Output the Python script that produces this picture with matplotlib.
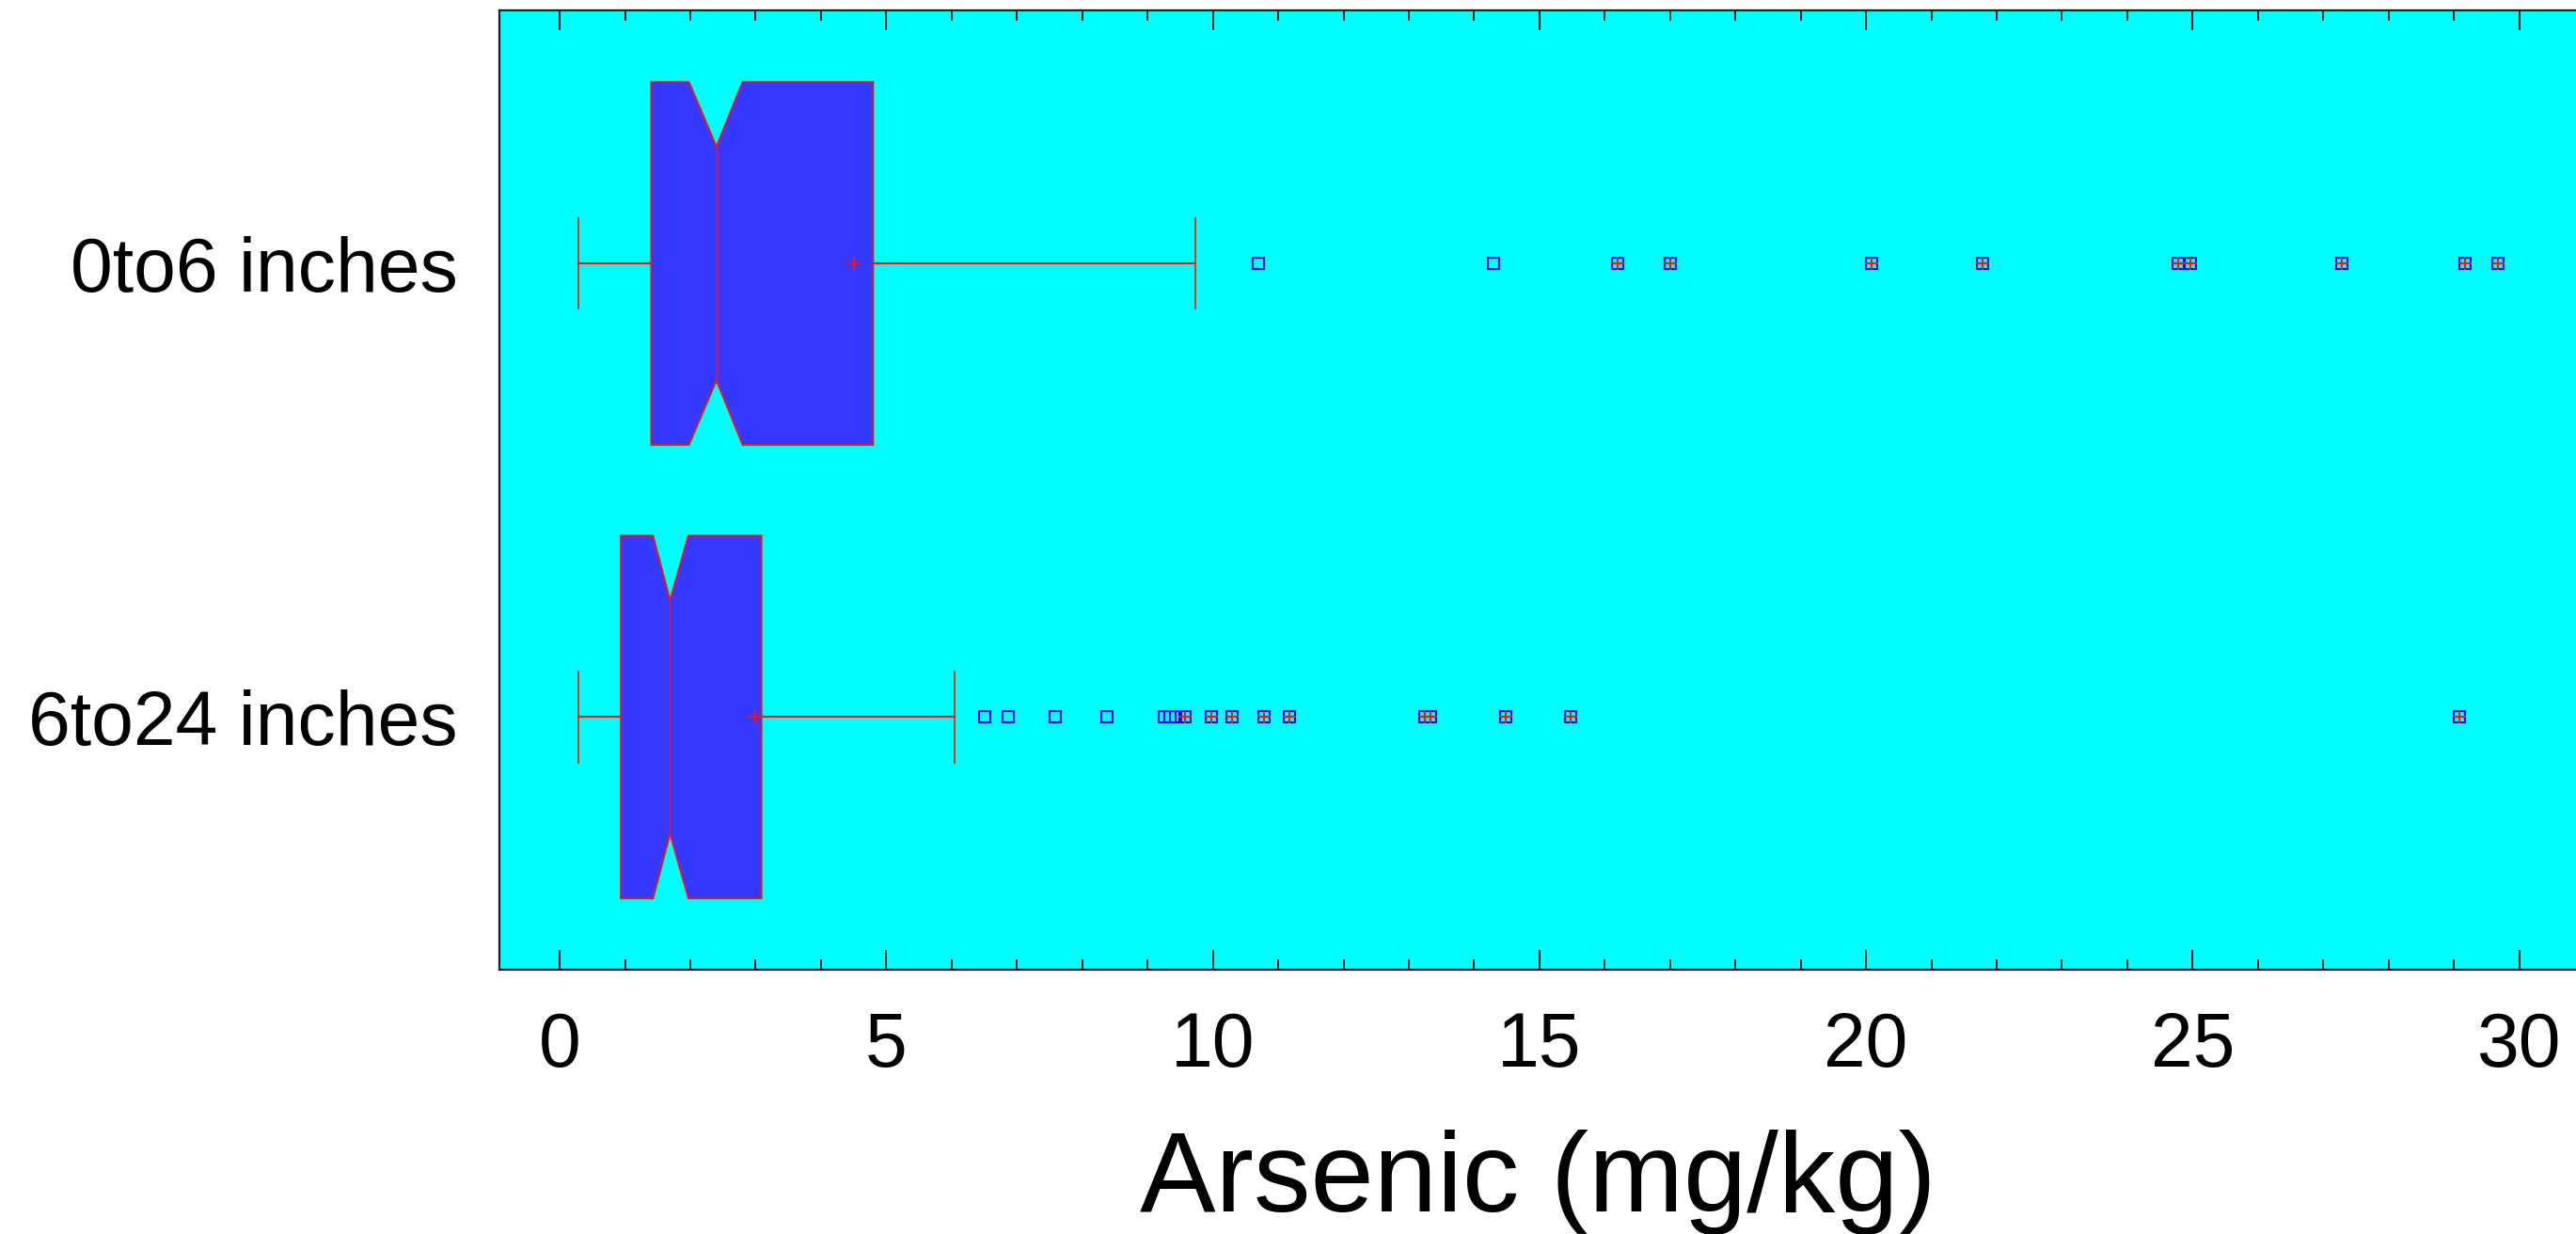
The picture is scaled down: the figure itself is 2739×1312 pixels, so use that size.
import matplotlib
matplotlib.use('Agg')
import matplotlib.pyplot as plt
from matplotlib.ticker import MultipleLocator

# data (mg/kg)
categorias = ['0to6 inches', '6to24 inches']
posiciones = [2, 1]
q1 = [1.40, 0.935]
mediana = [2.40, 1.69]
q3 = [4.80, 3.09]
muesca_inf = [1.98, 1.43]
muesca_sup = [2.80, 1.97]
bigote_inf = [0.28, 0.28]
bigote_sup = [9.73, 6.05]
medias = [4.50, 3.00]
atipicos_0a6 = [10.70, 14.30, 16.20, 17.00, 20.08, 21.79, 24.78, 24.97, 27.29, 29.17, 29.68]
atipicos_6a24 = [6.51, 6.87, 7.59, 8.38, 9.25, 9.34, 9.43, 9.58, 9.98, 10.29, 10.78,
                 11.17, 13.24, 13.33, 14.48, 15.48, 29.08]
atipicos = [atipicos_0a6, atipicos_6a24]

CIAN = '#00FFFF'
AZUL_CAJA = '#3339FF'
ROJO = '#FF1010'
AZUL = '#0000FF'

plt.rcParams['font.family'] = ['Liberation Sans', 'DejaVu Sans']


def caja(ax, y, a, b, c, nlo, nhi, wlo, whi, media, puntos):
    h = 0.4
    hn = 0.258
    xs = [a, nlo, b, nhi, c, c, nhi, b, nlo, a]
    ys = [y - h, y - h, y - hn, y - h, y - h, y + h, y + h, y + hn, y + h, y + h]
    ax.fill(xs, ys, facecolor=AZUL_CAJA, edgecolor=ROJO, linewidth=1.3, zorder=2)
    ax.plot([b, b], [y - hn, y + hn], color=ROJO, linewidth=1.0, zorder=3)
    # bigotes
    ax.plot([wlo, a], [y, y], color=ROJO, linewidth=1.5, zorder=1)
    ax.plot([c, whi], [y, y], color=ROJO, linewidth=1.5, zorder=1)
    ax.plot([wlo, wlo], [y - 0.1, y + 0.1], color=ROJO, linewidth=1.2, zorder=1)
    ax.plot([whi, whi], [y - 0.1, y + 0.1], color=ROJO, linewidth=1.2, zorder=1)
    ax.plot([media], [y], marker='+', color=ROJO, markersize=10, mew=1.5, zorder=4)
    # atipicos: los muy alejados (> 3 IQR) llevan una cruz roja
    lejos = c + 3 * (c - a)
    ax.plot(puntos, [y] * len(puntos), linestyle='none', marker='s', markersize=9,
            markerfacecolor='none', markeredgecolor=AZUL, mew=1.5, zorder=4)
    muy = [p for p in puntos if p > lejos]
    ax.plot(muy, [y] * len(muy), linestyle='none', marker='+', markersize=10,
            color=ROJO, mew=1.5, zorder=5)


fig = plt.figure(figsize=(27.39, 13.12), dpi=100)
ax = fig.add_axes([0.194, 0.2142, 0.806, 0.7774])
ax.set_facecolor(CIAN)

for i in range(len(categorias)):
    caja(ax, posiciones[i], q1[i], mediana[i], q3[i], muesca_inf[i], muesca_sup[i],
         bigote_inf[i], bigote_sup[i], medias[i], atipicos[i])

ax.set_xlim(-0.918, 30.87)
ax.set_ylim(0.443, 2.558)
ax.set_yticks(posiciones)
ax.set_yticklabels(categorias)
ax.xaxis.set_major_locator(MultipleLocator(5))
ax.xaxis.set_minor_locator(MultipleLocator(1))
ax.tick_params(axis='x', which='both', direction='in', top=True, bottom=True,
               width=1.4, color='#111111', labelsize=58, pad=32)
ax.tick_params(axis='x', which='major', length=15)
ax.tick_params(axis='x', which='minor', length=8)
ax.tick_params(axis='y', length=0, labelsize=58, pad=32)
ax.spines['right'].set_visible(False)
for s in ['left', 'top', 'bottom']:
    ax.spines[s].set_linewidth(1.6)
    ax.spines[s].set_color('#222222')

ax.set_xlabel('Arsenic (mg/kg)', fontsize=87, labelpad=36)

fig.savefig('out.png', dpi=100, facecolor='white')
